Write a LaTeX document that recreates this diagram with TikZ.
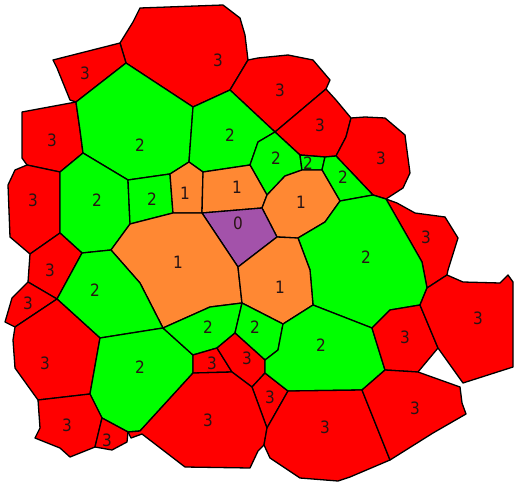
\documentclass[tikz,border=0pt]{standalone}
\usepackage{fontspec}
\setmainfont{DejaVu Sans}
\definecolor{cred}{RGB}{255,0,0}
\definecolor{cgreen}{RGB}{0,255,0}
\definecolor{corange}{RGB}{255,136,51}
\definecolor{cpurple}{RGB}{163,82,170}
\definecolor{ctext}{RGB}{40,20,20}
\tikzset{
  cell/.style={draw=black, line width=1.3pt, line join=round},
  rc/.style={cell, fill=cred},
  gc/.style={cell, fill=cgreen},
  oc/.style={cell, fill=corange},
  pc/.style={cell, fill=cpurple},
  lbl/.style={text=ctext, font=\fontsize{17}{17}\selectfont\addfontfeatures{FakeStretch=0.9}, inner sep=0pt}
}
\begin{document}
\begin{tikzpicture}[x=1pt,y=-1pt]
\useasboundingbox (0,0) rectangle (517,485);
% top row
\path[rc] (120,43) -- (133,22) -- (140,8) -- (223,5) -- (240,18) -- (245,35) -- (248,60) -- (230,90) -- (193,107) -- (126,63) -- cycle;
\path[rc] (53,60) -- (120,43) -- (126,63) -- (76,102) -- (70,100) -- (57,68) -- cycle;
\path[rc] (248,60) -- (258,58) -- (288,55) -- (313,60) -- (330,80) -- (326,89) -- (275,132) -- (230,90) -- cycle;
\path[rc] (326,89) -- (336,100) -- (351,118) -- (346,137) -- (336,156) -- (325,157) -- (300,155) -- (275,132) -- cycle;
\path[rc] (351,118) -- (365,117) -- (385,118) -- (405,135) -- (406,143) -- (410,173) -- (403,188) -- (386,199) -- (373,195) -- (336,156) -- (346,137) -- cycle;
\path[rc] (22,112) -- (76,102) -- (80,130) -- (83,153) -- (60,172) -- (27,165) -- (22,158) -- cycle;
% greens upper
\path[gc] (76,102) -- (126,63) -- (193,107) -- (189,162) -- (170,174) -- (128,180) -- (83,153) -- (80,130) -- cycle;
\path[gc] (193,107) -- (230,90) -- (275,132) -- (258,142) -- (250,165) -- (203,172) -- (189,162) -- cycle;
\path[gc] (275,132) -- (300,155) -- (302,170) -- (285,176) -- (267,195) -- (250,165) -- (258,142) -- cycle;
\path[gc] (300,155) -- (325,157) -- (322,170) -- (302,170) -- cycle;
\path[gc] (325,157) -- (336,156) -- (373,195) -- (340,201) -- (322,170) -- cycle;
\path[rc] (27,165) -- (60,172) -- (60,233) -- (30,254) -- (10,237) -- (8,185) -- (15,170) -- cycle;
\path[gc] (83,153) -- (128,180) -- (130,224) -- (111,250) -- (82,253) -- (60,233) -- (60,172) -- cycle;
\path[gc] (128,180) -- (170,174) -- (173,213) -- (130,224) -- cycle;
% oranges and centre
\path[oc] (189,162) -- (203,172) -- (202,213) -- (173,213) -- (170,174) -- cycle;
\path[oc] (203,172) -- (250,165) -- (267,195) -- (262,208) -- (202,213) -- cycle;
\path[oc] (262,208) -- (267,195) -- (285,176) -- (302,170) -- (322,170) -- (340,201) -- (325,222) -- (298,238) -- (277,237) -- cycle;
\path[pc] (202,213) -- (262,208) -- (277,237) -- (238,267) -- cycle;
\path[rc] (386,199) -- (397,203) -- (415,213) -- (445,217) -- (458,238) -- (448,270) -- (447,275) -- (427,288) -- (422,262) -- cycle;
\path[gc] (340,201) -- (373,195) -- (386,199) -- (422,262) -- (427,288) -- (420,305) -- (390,310) -- (372,328) -- (313,305) -- (310,270) -- (298,238) -- (325,222) -- cycle;
\path[oc] (111,250) -- (130,224) -- (173,213) -- (202,213) -- (238,267) -- (242,303) -- (210,307) -- (163,328) -- (140,283) -- cycle;
\path[oc] (238,267) -- (277,237) -- (298,238) -- (310,270) -- (313,305) -- (283,324) -- (242,303) -- cycle;
% left column
\path[rc] (30,254) -- (60,233) -- (82,253) -- (57,299) -- (28,282) -- cycle;
\path[rc] (28,282) -- (57,299) -- (15,327) -- (5,322) -- (12,298) -- cycle;
\path[gc] (82,253) -- (111,250) -- (140,283) -- (163,328) -- (100,338) -- (57,299) -- cycle;
\path[rc] (15,327) -- (57,299) -- (100,338) -- (90,394) -- (38,400) -- (15,368) -- (13,340) -- cycle;
\path[gc] (100,338) -- (163,328) -- (193,355) -- (193,373) -- (140,431) -- (128,432) -- (102,418) -- (90,394) -- cycle;
\path[rc] (38,400) -- (90,394) -- (102,418) -- (95,447) -- (70,457) -- (60,448) -- (35,438) -- (40,428) -- cycle;
\path[rc] (102,418) -- (128,432) -- (127,442) -- (112,450) -- (95,447) -- cycle;
% lower middle
\path[gc] (163,328) -- (210,307) -- (242,303) -- (235,333) -- (217,348) -- (193,355) -- cycle;
\path[rc] (193,355) -- (217,348) -- (232,372) -- (193,373) -- cycle;
\path[gc] (242,303) -- (283,324) -- (278,350) -- (265,360) -- (235,333) -- cycle;
\path[rc] (235,333) -- (265,360) -- (265,373) -- (252,387) -- (232,372) -- (217,348) -- cycle;
\path[rc] (265,373) -- (288,391) -- (267,428) -- (252,387) -- cycle;
\path[gc] (283,324) -- (313,305) -- (372,328) -- (385,370) -- (362,390) -- (288,391) -- (265,373) -- (265,360) -- (278,350) -- cycle;
\path[rc] (193,373) -- (232,372) -- (252,387) -- (267,428) -- (264,445) -- (258,451) -- (250,468) -- (185,467) -- (142,434) -- (131,438) -- (128,432) -- (140,431) -- cycle;
\path[rc] (288,391) -- (362,390) -- (390,460) -- (350,477) -- (338,481) -- (300,478) -- (270,458) -- (264,445) -- (267,428) -- cycle;
% right side
\path[rc] (372,328) -- (390,310) -- (420,305) -- (438,348) -- (418,372) -- (385,370) -- cycle;
\path[rc] (362,390) -- (385,370) -- (418,372) -- (460,387) -- (462,403) -- (466,414) -- (433,433) -- (390,460) -- cycle;
\path[rc] (447,275) -- (463,282) -- (500,283) -- (508,275) -- (513,282) -- (513,367) -- (463,383) -- (438,348) -- (420,305) -- (427,288) -- cycle;
% labels
\node[lbl] (t1) at (218,60) {3};
\node[lbl] (t2) at (85,73) {3};
\node[lbl] (t3) at (280,90) {3};
\node[lbl] (t4) at (320,125) {3};
\node[lbl] (t5) at (381,158) {3};
\node[lbl] (t6) at (52,140) {3};
\node[lbl] (t7) at (33,200) {3};
\node[lbl] (t8) at (50,270) {3};
\node[lbl] (t9) at (28,303) {3};
\node[lbl] (t10) at (45,363) {3};
\node[lbl] (t11) at (67,425) {3};
\node[lbl] (t12) at (107,440) {3};
\node[lbl] (t13) at (212,363) {3};
\node[lbl] (t14) at (247,358) {3};
\node[lbl] (t15) at (270,397) {3};
\node[lbl] (t16) at (208,420) {3};
\node[lbl] (t17) at (325,427) {3};
\node[lbl] (t18) at (415,408) {3};
\node[lbl] (t19) at (405,337) {3};
\node[lbl] (t20) at (478,318) {3};
\node[lbl] (t21) at (426,237) {3};
\node[lbl] (g1) at (140,145) {2};
\node[lbl] (g2) at (230,135) {2};
\node[lbl] (g3) at (276,158) {2};
\node[lbl] (g4) at (308,163) {2};
\node[lbl] (g5) at (343,177) {2};
\node[lbl] (g6) at (97,200) {2};
\node[lbl] (g7) at (152,199) {2};
\node[lbl] (g8) at (95,290) {2};
\node[lbl] (g9) at (140,367) {2};
\node[lbl] (g10) at (208,327) {2};
\node[lbl] (g11) at (255,327) {2};
\node[lbl] (g12) at (321,345) {2};
\node[lbl] (g13) at (366,257) {2};
\node[lbl] (o1) at (185,193) {1};
\node[lbl] (o2) at (237,187) {1};
\node[lbl] (o3) at (301,202) {1};
\node[lbl] (o4) at (178,262) {1};
\node[lbl] (o5) at (280,287) {1};
\node[lbl] (p0) at (238,223) {0};
\end{tikzpicture}
\end{document}
